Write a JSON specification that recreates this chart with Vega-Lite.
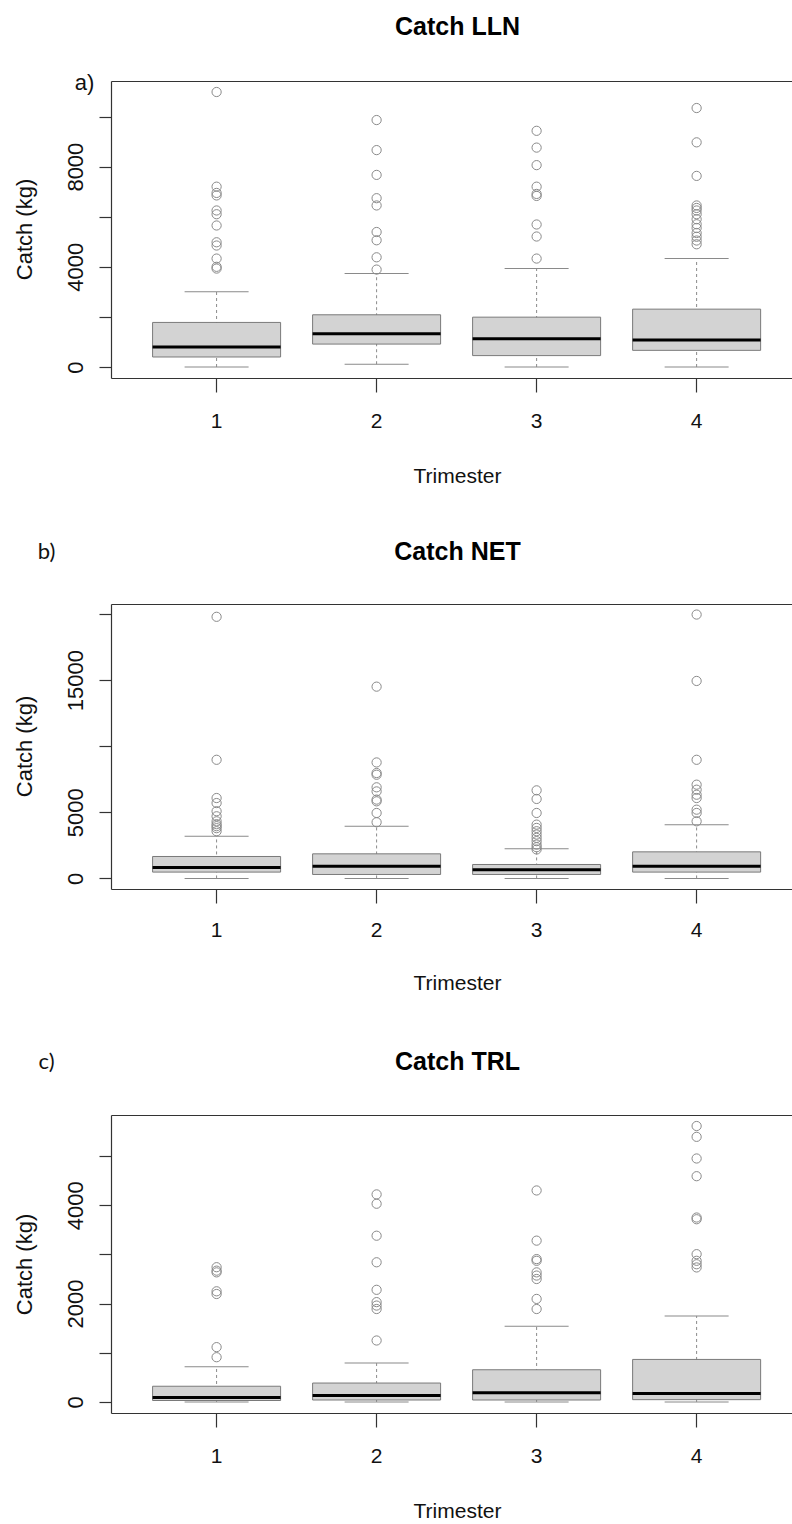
{
  "$schema": "https://vega.github.io/schema/vega-lite/v6.json",
  "padding": {"left": 13, "top": 14, "right": 0, "bottom": 0},
  "bounds": "flush",
  "spacing": 226,
  "config": {
    "font": "Liberation Sans",
    "view": {"stroke": null},
    "axis": {"grid": false},
    "tick": {"opacity": 1}
  },
  "datasets": {
    "lln_box": [
      {"trimester": 1, "low": 0, "q1": 400, "median": 800, "q3": 1780, "high": 3000},
      {"trimester": 2, "low": 110, "q1": 915, "median": 1330, "q3": 2085, "high": 3730},
      {"trimester": 3, "low": 0, "q1": 455, "median": 1130, "q3": 1990, "high": 3930},
      {"trimester": 4, "low": 0, "q1": 665, "median": 1075, "q3": 2310, "high": 4330}
    ],
    "lln_out": [
      {"trimester": 1, "catch": 10980}, {"trimester": 1, "catch": 7200}, {"trimester": 1, "catch": 6950}, {"trimester": 1, "catch": 6850}, {"trimester": 1, "catch": 6250}, {"trimester": 1, "catch": 6100}, {"trimester": 1, "catch": 5650}, {"trimester": 1, "catch": 4980}, {"trimester": 1, "catch": 4850}, {"trimester": 1, "catch": 4330}, {"trimester": 1, "catch": 4000}, {"trimester": 1, "catch": 3930},
      {"trimester": 2, "catch": 9860}, {"trimester": 2, "catch": 8660}, {"trimester": 2, "catch": 7670}, {"trimester": 2, "catch": 6740}, {"trimester": 2, "catch": 6450}, {"trimester": 2, "catch": 5390}, {"trimester": 2, "catch": 5060}, {"trimester": 2, "catch": 4380}, {"trimester": 2, "catch": 3890},
      {"trimester": 3, "catch": 9430}, {"trimester": 3, "catch": 8760}, {"trimester": 3, "catch": 8060}, {"trimester": 3, "catch": 7200}, {"trimester": 3, "catch": 6910}, {"trimester": 3, "catch": 6830}, {"trimester": 3, "catch": 5690}, {"trimester": 3, "catch": 5210}, {"trimester": 3, "catch": 4330},
      {"trimester": 4, "catch": 10340}, {"trimester": 4, "catch": 8970}, {"trimester": 4, "catch": 7630}, {"trimester": 4, "catch": 6450}, {"trimester": 4, "catch": 6350}, {"trimester": 4, "catch": 6250}, {"trimester": 4, "catch": 6100}, {"trimester": 4, "catch": 5900}, {"trimester": 4, "catch": 5700}, {"trimester": 4, "catch": 5550}, {"trimester": 4, "catch": 5350}, {"trimester": 4, "catch": 5200}, {"trimester": 4, "catch": 5050}, {"trimester": 4, "catch": 4900}
    ],
    "net_box": [
      {"trimester": 1, "low": 0, "q1": 480, "median": 830, "q3": 1660, "high": 3190},
      {"trimester": 2, "low": 0, "q1": 300, "median": 930, "q3": 1860, "high": 3950},
      {"trimester": 3, "low": 0, "q1": 300, "median": 650, "q3": 1055, "high": 2240},
      {"trimester": 4, "low": 0, "q1": 480, "median": 930, "q3": 2010, "high": 4050}
    ],
    "net_out": [
      {"trimester": 1, "catch": 19780}, {"trimester": 1, "catch": 8970}, {"trimester": 1, "catch": 6080}, {"trimester": 1, "catch": 5700}, {"trimester": 1, "catch": 5080}, {"trimester": 1, "catch": 4700}, {"trimester": 1, "catch": 4320}, {"trimester": 1, "catch": 4100}, {"trimester": 1, "catch": 3950}, {"trimester": 1, "catch": 3800}, {"trimester": 1, "catch": 3570},
      {"trimester": 2, "catch": 14500}, {"trimester": 2, "catch": 8770}, {"trimester": 2, "catch": 7970}, {"trimester": 2, "catch": 7840}, {"trimester": 2, "catch": 6890}, {"trimester": 2, "catch": 6580}, {"trimester": 2, "catch": 5960}, {"trimester": 2, "catch": 5830}, {"trimester": 2, "catch": 4950}, {"trimester": 2, "catch": 4250},
      {"trimester": 3, "catch": 6660}, {"trimester": 3, "catch": 6010}, {"trimester": 3, "catch": 4950}, {"trimester": 3, "catch": 4070}, {"trimester": 3, "catch": 3820}, {"trimester": 3, "catch": 3570}, {"trimester": 3, "catch": 3320}, {"trimester": 3, "catch": 3070}, {"trimester": 3, "catch": 2820}, {"trimester": 3, "catch": 2560}, {"trimester": 3, "catch": 2360}, {"trimester": 3, "catch": 2190},
      {"trimester": 4, "catch": 19950}, {"trimester": 4, "catch": 14930}, {"trimester": 4, "catch": 8970}, {"trimester": 4, "catch": 7090}, {"trimester": 4, "catch": 6710}, {"trimester": 4, "catch": 6330}, {"trimester": 4, "catch": 6080}, {"trimester": 4, "catch": 5200}, {"trimester": 4, "catch": 4950}, {"trimester": 4, "catch": 4320}
    ],
    "trl_box": [
      {"trimester": 1, "low": 0, "q1": 30, "median": 90, "q3": 320, "high": 715},
      {"trimester": 2, "low": 0, "q1": 40, "median": 130, "q3": 385, "high": 790},
      {"trimester": 3, "low": 0, "q1": 40, "median": 190, "q3": 655, "high": 1540},
      {"trimester": 4, "low": 0, "q1": 47, "median": 170, "q3": 865, "high": 1750}
    ],
    "trl_out": [
      {"trimester": 1, "catch": 2740}, {"trimester": 1, "catch": 2670}, {"trimester": 1, "catch": 2635}, {"trimester": 1, "catch": 2250}, {"trimester": 1, "catch": 2195}, {"trimester": 1, "catch": 1115}, {"trimester": 1, "catch": 910},
      {"trimester": 2, "catch": 4220}, {"trimester": 2, "catch": 4030}, {"trimester": 2, "catch": 3380}, {"trimester": 2, "catch": 2840}, {"trimester": 2, "catch": 2280}, {"trimester": 2, "catch": 2030}, {"trimester": 2, "catch": 1960}, {"trimester": 2, "catch": 1890}, {"trimester": 2, "catch": 1250},
      {"trimester": 3, "catch": 4300}, {"trimester": 3, "catch": 3280}, {"trimester": 3, "catch": 2905}, {"trimester": 3, "catch": 2870}, {"trimester": 3, "catch": 2635}, {"trimester": 3, "catch": 2570}, {"trimester": 3, "catch": 2500}, {"trimester": 3, "catch": 2095}, {"trimester": 3, "catch": 1890},
      {"trimester": 4, "catch": 5610}, {"trimester": 4, "catch": 5390}, {"trimester": 4, "catch": 4950}, {"trimester": 4, "catch": 4590}, {"trimester": 4, "catch": 3750}, {"trimester": 4, "catch": 3715}, {"trimester": 4, "catch": 3005}, {"trimester": 4, "catch": 2870}, {"trimester": 4, "catch": 2800}, {"trimester": 4, "catch": 2735}
    ]
  },
  "vconcat": [
    {
      "width": 681, "height": 297,
      "resolve": {"axis": {"x": "independent", "y": "independent"}},
      "layer": [
        {
          "data": {"name": "lln_box"},
          "mark": {"type": "rule", "strokeDash": [3, 3], "color": "#8a8a8a", "strokeWidth": 1},
          "encoding": {
            "x": {"field": "trimester", "type": "ordinal", "scale": {"type": "band", "domain": [1, 2, 3, 4], "paddingInner": 0.2, "paddingOuter": 0.228, "align": 0.57},
              "axis": {"orient": "bottom", "domain": true, "domainColor": "#333", "domainWidth": 1.2, "ticks": true, "tickSize": 14, "tickColor": "#333", "tickWidth": 1.2, "labels": true, "labelAngle": 0, "labelFontSize": 21, "labelColor": "#111", "labelPadding": 29, "labelBaseline": "middle", "labelAlign": "center", "title": "Trimester", "titleFontSize": 21, "titleFontWeight": "normal", "titleColor": "#111", "titleX": 346, "titleY": 98, "titleAlign": "center", "titleBaseline": "middle", "titleAngle": 0}},
            "y": {"field": "low", "type": "quantitative", "scale": {"domain": [-439, 11419], "nice": false, "zero": false},
              "axis": {"orient": "left", "values": [0, 2000, 4000, 6000, 8000, 10000], "format": "d", "labelExpr": "datum.value % 4000 === 0 ? datum.label : ''", "domain": true, "domainColor": "#333", "domainWidth": 1.2, "tickSize": 12, "tickColor": "#333", "tickWidth": 1.2, "labelAngle": -90, "labelAlign": "center", "labelBaseline": "alphabetic", "labelPadding": 17, "labelFontSize": 22, "labelColor": "#111", "labelOverlap": false, "labelFlush": false, "title": "Catch (kg)", "titleFontSize": 22, "titleFontWeight": "normal", "titleColor": "#111", "titleAngle": -90, "titleX": -87, "titleY": 148, "titleAlign": "center", "titleBaseline": "middle"}},
            "y2": {"field": "high"}
          }
        },
        {
          "data": {"name": "lln_box"},
          "mark": {"type": "tick", "size": 64, "thickness": 1, "color": "#8a8a8a", "opacity": 1},
          "encoding": {
            "x": {"field": "trimester", "type": "ordinal", "scale": {"type": "band", "domain": [1, 2, 3, 4], "paddingInner": 0.2, "paddingOuter": 0.228, "align": 0.57},
              "axis": {"orient": "top", "domain": true, "domainColor": "#333", "domainWidth": 1.2, "ticks": false, "labels": false, "title": "Catch LLN", "titleFontSize": 25, "titleFontWeight": "bold", "titleColor": "#000", "titleX": 346, "titleY": -55, "titleAlign": "center", "titleBaseline": "middle", "titleAngle": 0}},
            "y": {"field": "low", "type": "quantitative", "scale": {"domain": [-439, 11419], "nice": false, "zero": false},
              "axis": {"orient": "right", "domain": false, "ticks": false, "labels": false, "minExtent": 0, "title": "a)", "titleFontSize": 22, "titleFontWeight": "normal", "titleColor": "#111", "titleX": -708, "titleY": 1, "titleAlign": "center", "titleBaseline": "middle", "titleAngle": 0}}
          }
        },
        {
          "data": {"name": "lln_box"},
          "mark": {"type": "tick", "size": 64, "thickness": 1, "color": "#8a8a8a", "opacity": 1},
          "encoding": {
            "x": {"field": "trimester", "type": "ordinal", "scale": {"type": "band", "domain": [1, 2, 3, 4], "paddingInner": 0.2, "paddingOuter": 0.228, "align": 0.57}, "axis": null},
            "y": {"field": "high", "type": "quantitative", "scale": {"domain": [-439, 11419], "nice": false, "zero": false}, "axis": null}
          }
        },
        {
          "data": {"name": "lln_box"},
          "mark": {"type": "bar", "fill": "#d3d3d3", "stroke": "#7a7a7a", "strokeWidth": 1, "opacity": 1},
          "encoding": {
            "x": {"field": "trimester", "type": "ordinal", "scale": {"type": "band", "domain": [1, 2, 3, 4], "paddingInner": 0.2, "paddingOuter": 0.228, "align": 0.57}, "axis": null},
            "y": {"field": "q1", "type": "quantitative", "scale": {"domain": [-439, 11419], "nice": false, "zero": false}, "axis": null},
            "y2": {"field": "q3"}
          }
        },
        {
          "data": {"name": "lln_box"},
          "mark": {"type": "tick", "size": 128, "thickness": 3, "color": "#000", "opacity": 1},
          "encoding": {
            "x": {"field": "trimester", "type": "ordinal", "scale": {"type": "band", "domain": [1, 2, 3, 4], "paddingInner": 0.2, "paddingOuter": 0.228, "align": 0.57}, "axis": null},
            "y": {"field": "median", "type": "quantitative", "scale": {"domain": [-439, 11419], "nice": false, "zero": false}, "axis": null}
          }
        },
        {
          "data": {"name": "lln_out"},
          "mark": {"type": "point", "shape": "circle", "filled": false, "size": 85, "stroke": "#8a8a8a", "strokeWidth": 1, "opacity": 1},
          "encoding": {
            "x": {"field": "trimester", "type": "ordinal", "scale": {"type": "band", "domain": [1, 2, 3, 4], "paddingInner": 0.2, "paddingOuter": 0.228, "align": 0.57}, "axis": null},
            "y": {"field": "catch", "type": "quantitative", "scale": {"domain": [-439, 11419], "nice": false, "zero": false}, "axis": null}
          }
        }
      ]
    },
    {
      "width": 681, "height": 285,
      "resolve": {"axis": {"x": "independent", "y": "independent"}},
      "layer": [
        {
          "data": {"name": "net_box"},
          "mark": {"type": "rule", "strokeDash": [3, 3], "color": "#8a8a8a", "strokeWidth": 1},
          "encoding": {
            "x": {"field": "trimester", "type": "ordinal", "scale": {"type": "band", "domain": [1, 2, 3, 4], "paddingInner": 0.2, "paddingOuter": 0.228, "align": 0.57},
              "axis": {"orient": "bottom", "domain": true, "domainColor": "#333", "domainWidth": 1.2, "ticks": true, "tickSize": 14, "tickColor": "#333", "tickWidth": 1.2, "labels": true, "labelAngle": 0, "labelFontSize": 21, "labelColor": "#111", "labelPadding": 27, "labelBaseline": "middle", "labelAlign": "center", "title": "Trimester", "titleFontSize": 21, "titleFontWeight": "normal", "titleColor": "#111", "titleX": 346, "titleY": 94, "titleAlign": "center", "titleBaseline": "middle", "titleAngle": 0}},
            "y": {"field": "low", "type": "quantitative", "scale": {"domain": [-798, 20748], "nice": false, "zero": false},
              "axis": {"orient": "left", "values": [0, 5000, 10000, 15000, 20000], "format": "d", "labelExpr": "(datum.value === 0 || datum.value === 5000 || datum.value === 15000) ? datum.label : ''", "domain": true, "domainColor": "#333", "domainWidth": 1.2, "tickSize": 12, "tickColor": "#333", "tickWidth": 1.2, "labelAngle": -90, "labelAlign": "center", "labelBaseline": "alphabetic", "labelPadding": 17, "labelFontSize": 22, "labelColor": "#111", "labelOverlap": false, "labelFlush": false, "title": "Catch (kg)", "titleFontSize": 22, "titleFontWeight": "normal", "titleColor": "#111", "titleAngle": -90, "titleX": -87, "titleY": 142, "titleAlign": "center", "titleBaseline": "middle"}},
            "y2": {"field": "high"}
          }
        },
        {
          "data": {"name": "net_box"},
          "mark": {"type": "tick", "size": 64, "thickness": 1, "color": "#8a8a8a", "opacity": 1},
          "encoding": {
            "x": {"field": "trimester", "type": "ordinal", "scale": {"type": "band", "domain": [1, 2, 3, 4], "paddingInner": 0.2, "paddingOuter": 0.228, "align": 0.57},
              "axis": {"orient": "top", "domain": true, "domainColor": "#333", "domainWidth": 1.2, "ticks": false, "labels": false, "title": "Catch NET", "titleFontSize": 25, "titleFontWeight": "bold", "titleColor": "#000", "titleX": 346, "titleY": -53, "titleAlign": "center", "titleBaseline": "middle", "titleAngle": 0}},
            "y": {"field": "low", "type": "quantitative", "scale": {"domain": [-798, 20748], "nice": false, "zero": false},
              "axis": {"orient": "right", "domain": false, "ticks": false, "labels": false, "minExtent": 0, "title": "b)", "titleFont": "Lato", "titleFontSize": 22, "titleFontWeight": "normal", "titleColor": "#111", "titleX": -746, "titleY": -53, "titleAlign": "center", "titleBaseline": "middle", "titleAngle": 0}}
          }
        },
        {
          "data": {"name": "net_box"},
          "mark": {"type": "tick", "size": 64, "thickness": 1, "color": "#8a8a8a", "opacity": 1},
          "encoding": {
            "x": {"field": "trimester", "type": "ordinal", "scale": {"type": "band", "domain": [1, 2, 3, 4], "paddingInner": 0.2, "paddingOuter": 0.228, "align": 0.57}, "axis": null},
            "y": {"field": "high", "type": "quantitative", "scale": {"domain": [-798, 20748], "nice": false, "zero": false}, "axis": null}
          }
        },
        {
          "data": {"name": "net_box"},
          "mark": {"type": "bar", "fill": "#d3d3d3", "stroke": "#7a7a7a", "strokeWidth": 1, "opacity": 1},
          "encoding": {
            "x": {"field": "trimester", "type": "ordinal", "scale": {"type": "band", "domain": [1, 2, 3, 4], "paddingInner": 0.2, "paddingOuter": 0.228, "align": 0.57}, "axis": null},
            "y": {"field": "q1", "type": "quantitative", "scale": {"domain": [-798, 20748], "nice": false, "zero": false}, "axis": null},
            "y2": {"field": "q3"}
          }
        },
        {
          "data": {"name": "net_box"},
          "mark": {"type": "tick", "size": 128, "thickness": 3, "color": "#000", "opacity": 1},
          "encoding": {
            "x": {"field": "trimester", "type": "ordinal", "scale": {"type": "band", "domain": [1, 2, 3, 4], "paddingInner": 0.2, "paddingOuter": 0.228, "align": 0.57}, "axis": null},
            "y": {"field": "median", "type": "quantitative", "scale": {"domain": [-798, 20748], "nice": false, "zero": false}, "axis": null}
          }
        },
        {
          "data": {"name": "net_out"},
          "mark": {"type": "point", "shape": "circle", "filled": false, "size": 85, "stroke": "#8a8a8a", "strokeWidth": 1, "opacity": 1},
          "encoding": {
            "x": {"field": "trimester", "type": "ordinal", "scale": {"type": "band", "domain": [1, 2, 3, 4], "paddingInner": 0.2, "paddingOuter": 0.228, "align": 0.57}, "axis": null},
            "y": {"field": "catch", "type": "quantitative", "scale": {"domain": [-798, 20748], "nice": false, "zero": false}, "axis": null}
          }
        }
      ]
    },
    {
      "width": 681, "height": 298,
      "resolve": {"axis": {"x": "independent", "y": "independent"}},
      "layer": [
        {
          "data": {"name": "trl_box"},
          "mark": {"type": "rule", "strokeDash": [3, 3], "color": "#8a8a8a", "strokeWidth": 1},
          "encoding": {
            "x": {"field": "trimester", "type": "ordinal", "scale": {"type": "band", "domain": [1, 2, 3, 4], "paddingInner": 0.2, "paddingOuter": 0.228, "align": 0.57},
              "axis": {"orient": "bottom", "domain": true, "domainColor": "#333", "domainWidth": 1.2, "ticks": true, "tickSize": 14, "tickColor": "#333", "tickWidth": 1.2, "labels": true, "labelAngle": 0, "labelFontSize": 21, "labelColor": "#111", "labelPadding": 29, "labelBaseline": "middle", "labelAlign": "center", "title": "Trimester", "titleFontSize": 21, "titleFontWeight": "normal", "titleColor": "#111", "titleX": 346, "titleY": 98, "titleAlign": "center", "titleBaseline": "middle", "titleAngle": 0}},
            "y": {"field": "low", "type": "quantitative", "scale": {"domain": [-224, 5834], "nice": false, "zero": false},
              "axis": {"orient": "left", "values": [0, 1000, 2000, 3000, 4000, 5000], "format": "d", "labelExpr": "datum.value % 2000 === 0 ? datum.label : ''", "domain": true, "domainColor": "#333", "domainWidth": 1.2, "tickSize": 12, "tickColor": "#333", "tickWidth": 1.2, "labelAngle": -90, "labelAlign": "center", "labelBaseline": "alphabetic", "labelPadding": 17, "labelFontSize": 22, "labelColor": "#111", "labelOverlap": false, "labelFlush": false, "title": "Catch (kg)", "titleFontSize": 22, "titleFontWeight": "normal", "titleColor": "#111", "titleAngle": -90, "titleX": -87, "titleY": 149, "titleAlign": "center", "titleBaseline": "middle"}},
            "y2": {"field": "high"}
          }
        },
        {
          "data": {"name": "trl_box"},
          "mark": {"type": "tick", "size": 64, "thickness": 1, "color": "#8a8a8a", "opacity": 1},
          "encoding": {
            "x": {"field": "trimester", "type": "ordinal", "scale": {"type": "band", "domain": [1, 2, 3, 4], "paddingInner": 0.2, "paddingOuter": 0.228, "align": 0.57},
              "axis": {"orient": "top", "domain": true, "domainColor": "#333", "domainWidth": 1.2, "ticks": false, "labels": false, "title": "Catch TRL", "titleFontSize": 25, "titleFontWeight": "bold", "titleColor": "#000", "titleX": 346, "titleY": -54, "titleAlign": "center", "titleBaseline": "middle", "titleAngle": 0}},
            "y": {"field": "low", "type": "quantitative", "scale": {"domain": [-224, 5834], "nice": false, "zero": false},
              "axis": {"orient": "right", "domain": false, "ticks": false, "labels": false, "minExtent": 0, "title": "c)", "titleFont": "Lato", "titleFontSize": 22, "titleFontWeight": "normal", "titleColor": "#111", "titleX": -746, "titleY": -54, "titleAlign": "center", "titleBaseline": "middle", "titleAngle": 0}}
          }
        },
        {
          "data": {"name": "trl_box"},
          "mark": {"type": "tick", "size": 64, "thickness": 1, "color": "#8a8a8a", "opacity": 1},
          "encoding": {
            "x": {"field": "trimester", "type": "ordinal", "scale": {"type": "band", "domain": [1, 2, 3, 4], "paddingInner": 0.2, "paddingOuter": 0.228, "align": 0.57}, "axis": null},
            "y": {"field": "high", "type": "quantitative", "scale": {"domain": [-224, 5834], "nice": false, "zero": false}, "axis": null}
          }
        },
        {
          "data": {"name": "trl_box"},
          "mark": {"type": "bar", "fill": "#d3d3d3", "stroke": "#7a7a7a", "strokeWidth": 1, "opacity": 1},
          "encoding": {
            "x": {"field": "trimester", "type": "ordinal", "scale": {"type": "band", "domain": [1, 2, 3, 4], "paddingInner": 0.2, "paddingOuter": 0.228, "align": 0.57}, "axis": null},
            "y": {"field": "q1", "type": "quantitative", "scale": {"domain": [-224, 5834], "nice": false, "zero": false}, "axis": null},
            "y2": {"field": "q3"}
          }
        },
        {
          "data": {"name": "trl_box"},
          "mark": {"type": "tick", "size": 128, "thickness": 3, "color": "#000", "opacity": 1},
          "encoding": {
            "x": {"field": "trimester", "type": "ordinal", "scale": {"type": "band", "domain": [1, 2, 3, 4], "paddingInner": 0.2, "paddingOuter": 0.228, "align": 0.57}, "axis": null},
            "y": {"field": "median", "type": "quantitative", "scale": {"domain": [-224, 5834], "nice": false, "zero": false}, "axis": null}
          }
        },
        {
          "data": {"name": "trl_out"},
          "mark": {"type": "point", "shape": "circle", "filled": false, "size": 85, "stroke": "#8a8a8a", "strokeWidth": 1, "opacity": 1},
          "encoding": {
            "x": {"field": "trimester", "type": "ordinal", "scale": {"type": "band", "domain": [1, 2, 3, 4], "paddingInner": 0.2, "paddingOuter": 0.228, "align": 0.57}, "axis": null},
            "y": {"field": "catch", "type": "quantitative", "scale": {"domain": [-224, 5834], "nice": false, "zero": false}, "axis": null}
          }
        }
      ]
    }
  ]
}
